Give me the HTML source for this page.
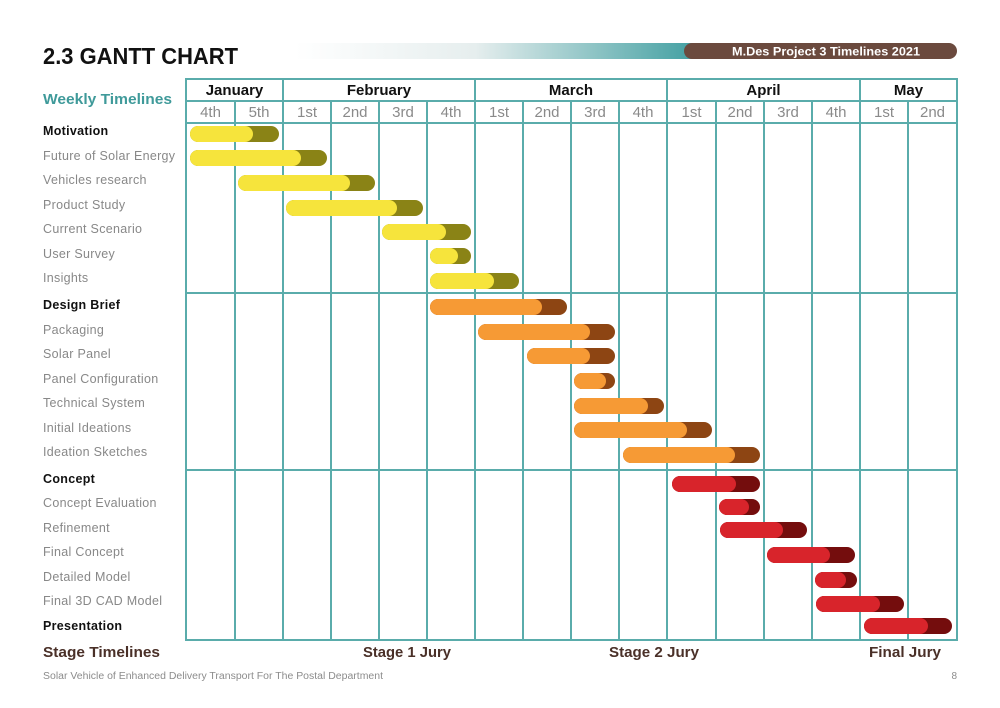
<!DOCTYPE html>
<html><head><meta charset="utf-8"><style>
html,body{margin:0;padding:0;background:#fff;}
svg{display:block;font-family:"Liberation Sans",sans-serif;}
</style></head><body>
<svg width="1000" height="708" viewBox="0 0 1000 708" xmlns="http://www.w3.org/2000/svg">
<defs>
<linearGradient id="g" x1="0" x2="1" y1="0" y2="0">
<stop offset="0" stop-color="#ffffff"/>
<stop offset="0.45" stop-color="#e6eeee"/>
<stop offset="1" stop-color="#43a0a2"/>
</linearGradient>
</defs>
<text x="43" y="64" font-size="23" font-weight="bold" fill="#111" textLength="195" lengthAdjust="spacingAndGlyphs">2.3 GANTT CHART</text>
<rect x="295" y="43" width="400" height="16" fill="url(#g)"/>
<rect x="684" y="43" width="273" height="16" rx="8" fill="#6b4a3e"/>
<text x="826" y="55.5" font-size="12" font-weight="bold" fill="#fff" text-anchor="middle" textLength="188" lengthAdjust="spacingAndGlyphs">M.Des Project 3 Timelines 2021</text>
<text x="43" y="104" font-size="15" font-weight="bold" fill="#3f9a9a" textLength="129" lengthAdjust="spacingAndGlyphs">Weekly Timelines</text>

<g stroke="#5aacab" stroke-width="2" fill="none">
<rect x="186" y="79" width="771" height="561"/>
<line x1="186" y1="101" x2="957" y2="101"/>
<line x1="186" y1="123" x2="957" y2="123"/>
<line x1="186" y1="293" x2="957" y2="293"/>
<line x1="186" y1="470" x2="957" y2="470"/>
<line x1="235" y1="101" x2="235" y2="640"/>
<line x1="283" y1="79" x2="283" y2="640"/>
<line x1="331" y1="101" x2="331" y2="640"/>
<line x1="379" y1="101" x2="379" y2="640"/>
<line x1="427" y1="101" x2="427" y2="640"/>
<line x1="475" y1="79" x2="475" y2="640"/>
<line x1="523" y1="101" x2="523" y2="640"/>
<line x1="571" y1="101" x2="571" y2="640"/>
<line x1="619" y1="101" x2="619" y2="640"/>
<line x1="667" y1="79" x2="667" y2="640"/>
<line x1="716" y1="101" x2="716" y2="640"/>
<line x1="764" y1="101" x2="764" y2="640"/>
<line x1="812" y1="101" x2="812" y2="640"/>
<line x1="860" y1="79" x2="860" y2="640"/>
<line x1="908" y1="101" x2="908" y2="640"/>
</g>

<g font-size="15" font-weight="bold" fill="#111" text-anchor="middle">
<text x="234.5" y="95">January</text>
<text x="379" y="95">February</text>
<text x="571" y="95">March</text>
<text x="763.5" y="95">April</text>
<text x="908.5" y="95">May</text>
</g>
<g font-size="15" fill="#8a8a8a" text-anchor="middle">
<text x="210.5" y="117">4th</text><text x="259" y="117">5th</text>
<text x="307" y="117">1st</text><text x="355" y="117">2nd</text><text x="403" y="117">3rd</text><text x="451" y="117">4th</text>
<text x="499" y="117">1st</text><text x="547" y="117">2nd</text><text x="595" y="117">3rd</text><text x="643" y="117">4th</text>
<text x="691.5" y="117">1st</text><text x="740" y="117">2nd</text><text x="788" y="117">3rd</text><text x="836" y="117">4th</text>
<text x="884" y="117">1st</text><text x="932.5" y="117">2nd</text>
</g>

<g font-size="12.5" fill="#888" letter-spacing="0.3">
<text x="43" y="135" fill="#111" font-weight="bold">Motivation</text>
<text x="43" y="160">Future of Solar Energy</text>
<text x="43" y="184">Vehicles research</text>
<text x="43" y="209">Product Study</text>
<text x="43" y="233">Current Scenario</text>
<text x="43" y="258">User Survey</text>
<text x="43" y="282">Insights</text>
<text x="43" y="309" fill="#111" font-weight="bold">Design Brief</text>
<text x="43" y="334">Packaging</text>
<text x="43" y="358">Solar Panel</text>
<text x="43" y="383">Panel Configuration</text>
<text x="43" y="407">Technical System</text>
<text x="43" y="432">Initial Ideations</text>
<text x="43" y="456">Ideation Sketches</text>
<text x="43" y="483" fill="#111" font-weight="bold">Concept</text>
<text x="43" y="507">Concept Evaluation</text>
<text x="43" y="532">Refinement</text>
<text x="43" y="556">Final Concept</text>
<text x="43" y="581">Detailed Model</text>
<text x="43" y="605">Final 3D CAD Model</text>
<text x="43" y="630" fill="#111" font-weight="bold">Presentation</text>
</g>

<g>
<rect x="190" y="126" width="89" height="16" rx="8" fill="#8a8316"/><rect x="190" y="126" width="63" height="16" rx="8" fill="#f6e43c"/>
<rect x="190" y="150" width="137" height="16" rx="8" fill="#8a8316"/><rect x="190" y="150" width="111" height="16" rx="8" fill="#f6e43c"/>
<rect x="238" y="175" width="137" height="16" rx="8" fill="#8a8316"/><rect x="238" y="175" width="112" height="16" rx="8" fill="#f6e43c"/>
<rect x="286" y="200" width="137" height="16" rx="8" fill="#8a8316"/><rect x="286" y="200" width="111" height="16" rx="8" fill="#f6e43c"/>
<rect x="382" y="224" width="89" height="16" rx="8" fill="#8a8316"/><rect x="382" y="224" width="64" height="16" rx="8" fill="#f6e43c"/>
<rect x="430" y="248" width="41" height="16" rx="8" fill="#8a8316"/><rect x="430" y="248" width="28" height="16" rx="8" fill="#f6e43c"/>
<rect x="430" y="273" width="89" height="16" rx="8" fill="#8a8316"/><rect x="430" y="273" width="64" height="16" rx="8" fill="#f6e43c"/>
</g>
<g>
<rect x="430" y="299" width="137" height="16" rx="8" fill="#8d4513"/><rect x="430" y="299" width="112" height="16" rx="8" fill="#f69a35"/>
<rect x="478" y="324" width="137" height="16" rx="8" fill="#8d4513"/><rect x="478" y="324" width="112" height="16" rx="8" fill="#f69a35"/>
<rect x="527" y="348" width="88" height="16" rx="8" fill="#8d4513"/><rect x="527" y="348" width="63" height="16" rx="8" fill="#f69a35"/>
<rect x="574" y="373" width="41" height="16" rx="8" fill="#8d4513"/><rect x="574" y="373" width="32" height="16" rx="8" fill="#f69a35"/>
<rect x="574" y="398" width="90" height="16" rx="8" fill="#8d4513"/><rect x="574" y="398" width="74" height="16" rx="8" fill="#f69a35"/>
<rect x="574" y="422" width="138" height="16" rx="8" fill="#8d4513"/><rect x="574" y="422" width="113" height="16" rx="8" fill="#f69a35"/>
<rect x="623" y="447" width="137" height="16" rx="8" fill="#8d4513"/><rect x="623" y="447" width="112" height="16" rx="8" fill="#f69a35"/>
</g>
<g>
<rect x="672" y="476" width="88" height="16" rx="8" fill="#740d0d"/><rect x="672" y="476" width="64" height="16" rx="8" fill="#d8242b"/>
<rect x="719" y="499" width="41" height="16" rx="8" fill="#740d0d"/><rect x="719" y="499" width="30" height="16" rx="8" fill="#d8242b"/>
<rect x="720" y="522" width="87" height="16" rx="8" fill="#740d0d"/><rect x="720" y="522" width="63" height="16" rx="8" fill="#d8242b"/>
<rect x="767" y="547" width="88" height="16" rx="8" fill="#740d0d"/><rect x="767" y="547" width="63" height="16" rx="8" fill="#d8242b"/>
<rect x="815" y="572" width="42" height="16" rx="8" fill="#740d0d"/><rect x="815" y="572" width="31" height="16" rx="8" fill="#d8242b"/>
<rect x="816" y="596" width="88" height="16" rx="8" fill="#740d0d"/><rect x="816" y="596" width="64" height="16" rx="8" fill="#d8242b"/>
<rect x="864" y="618" width="88" height="16" rx="8" fill="#740d0d"/><rect x="864" y="618" width="64" height="16" rx="8" fill="#d8242b"/>
</g>

<g font-size="14.5" font-weight="bold" fill="#4a3028">
<text x="43" y="657" textLength="117" lengthAdjust="spacingAndGlyphs">Stage Timelines</text>
<text x="363" y="657" textLength="88" lengthAdjust="spacingAndGlyphs">Stage 1 Jury</text>
<text x="609" y="657" textLength="90" lengthAdjust="spacingAndGlyphs">Stage 2 Jury</text>
<text x="869" y="657" textLength="72" lengthAdjust="spacingAndGlyphs">Final Jury</text>
</g>
<text x="43" y="679" font-size="10" fill="#8c8c8c" textLength="340" lengthAdjust="spacingAndGlyphs">Solar Vehicle of Enhanced Delivery Transport For The Postal Department</text>
<text x="957" y="679" font-size="10" fill="#8c8c8c" text-anchor="end">8</text>
</svg>
</body></html>
